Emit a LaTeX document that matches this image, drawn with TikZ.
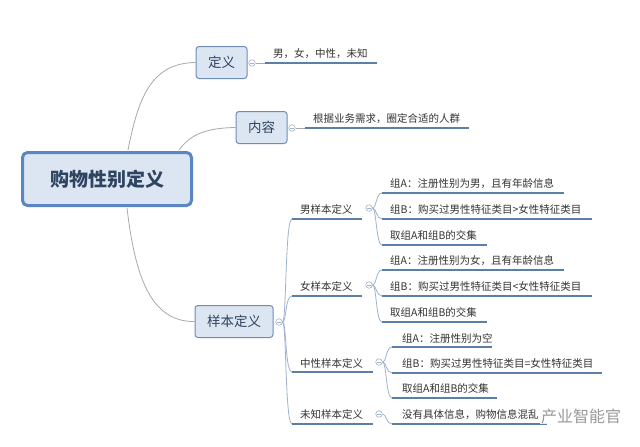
\documentclass[tikz,border=0pt]{standalone}
\usepackage{fontspec}
\setmainfont{Noto Sans CJK SC}
\definecolor{linec}{HTML}{5B80A8}
\definecolor{boxfill}{HTML}{DCE6F2}
\definecolor{boxdraw}{HTML}{6E8DB5}
\definecolor{rootdraw}{HTML}{5A87C4}
\definecolor{txt}{HTML}{333333}
\definecolor{boxtxt}{HTML}{2E4460}
\definecolor{conn}{HTML}{A8A8A8}
\definecolor{circc}{HTML}{9FB3CC}
\tikzset{
  rootbox/.style={draw=rootdraw, line width=3pt, fill=boxfill, rounded corners=5pt,
    minimum width=169pt, minimum height=53pt, text=boxtxt,
    font=\fontsize{19}{22}\selectfont\bfseries},
  topicbox/.style={draw=boxdraw, line width=1pt, fill=boxfill, rounded corners=3pt,
    minimum height=32pt, text=boxtxt, font=\fontsize{13.5}{16}\selectfont},
  leaf/.style={anchor=base west, inner sep=0pt, text=txt, font=\fontsize{10.5}{12}\selectfont},
  uline/.style={draw=linec, line width=2pt},
  connl/.style={draw=conn, line width=0.8pt},
  brack/.style={draw=circc, line width=0.8pt},
  circn/.style={circle, draw=circc, fill=white, line width=0.6pt, minimum size=6.5pt, inner sep=0pt},
  wm/.style={text=gray!80, font=\fontsize{16}{18}\selectfont, inner sep=1pt, fill=white, fill opacity=0.85, text opacity=1}
}
\newcommand{\minus}[1]{\draw[draw=circc, line width=0.6pt] ([xshift=-1.6pt]#1.center) -- ([xshift=1.6pt]#1.center);}
\begin{document}
\begin{tikzpicture}[x=1pt, y=-1pt]
\useasboundingbox[fill=white] (0,0) rectangle (640,447);

% main nodes
\node[rootbox] (root) at (107,179) {购物性别定义};
\node[topicbox, minimum width=51pt] (def) at (221.5,62.5) {定义};
\node[topicbox, minimum width=51pt] (cont) at (261.5,127.5) {内容};
\node[topicbox, minimum width=78pt] (samp) at (234,321.5) {样本定义};

% root connectors
\coordinate (r1) at (128,150);
\coordinate (r2) at (179,150);
\coordinate (r3) at (127,208);
\draw[connl] (r1) .. controls (138,100) and (150,63) .. (def.west);
\draw[connl] (r2) .. controls (190,135) and (205,128) .. (cont.west);
\draw[connl] (r3) .. controls (135,275) and (150,322) .. (samp.west);

% collapse circles
\node[circn] (c1) at (252,63) {};
\node[circn] (c2) at (292,128) {};
\node[circn] (c3) at (279,322) {};
\node[circn] (cm) at (369,208) {};
\node[circn] (cf) at (369,285) {};
\node[circn] (cn) at (379,362) {};
\node[circn] (cu) at (379,414) {};
\foreach \c in {c1,c2,c3,cm,cf,cn,cu} {\minus{\c}}

% 定义 child
\coordinate (d0) at (265,63); \coordinate (d1) at (377,63);
\draw[connl] (c1.east) -- (d0);
\draw[uline] (d0) -- (d1);
\node[leaf] (dtext) at (273,57) {男，女，中性，未知};

% 内容 child
\coordinate (n0) at (305,128); \coordinate (n1) at (469,128);
\draw[connl] (c2.east) -- (n0);
\draw[uline] (n0) -- (n1);
\node[leaf] (ntext) at (313,122) {根据业务需求，圈定合适的人群};

% sample level-2
\coordinate (m0) at (292,219); \coordinate (m1) at (362,219);
\coordinate (f0) at (292,296); \coordinate (f1) at (362,296);
\coordinate (z0) at (292,372); \coordinate (z1) at (373,372);
\coordinate (u0) at (292,424); \coordinate (u1) at (373,424);
\foreach \a in {m0,f0,z0,u0} {
  \draw[brack] (c3.east) .. controls ([xshift=4pt]c3.east) and ([xshift=-7pt]\a) .. (\a);
}
\draw[uline] (m0) -- (m1);
\draw[uline] (f0) -- (f1);
\draw[uline] (z0) -- (z1);
\draw[uline] (u0) -- (u1);
\node[leaf] (mt) at (300,213) {男样本定义};
\node[leaf] (ft) at (300,290) {女样本定义};
\node[leaf] (zt) at (300,367) {中性样本定义};
\node[leaf] (ut) at (300,418) {未知样本定义};

% male children
\coordinate (ma0) at (382,193); \coordinate (ma1) at (564,193);
\coordinate (mb0) at (382,219); \coordinate (mb1) at (592,219);
\coordinate (mc0) at (382,245); \coordinate (mc1) at (487,245);
% female children
\coordinate (fa0) at (382,270); \coordinate (fa1) at (564,270);
\coordinate (fb0) at (382,296); \coordinate (fb1) at (592,296);
\coordinate (fc0) at (382,322); \coordinate (fc1) at (487,322);
% neutral children
\coordinate (na0) at (392,347); \coordinate (na1) at (492,347);
\coordinate (nb0) at (392,373); \coordinate (nb1) at (602,373);
\coordinate (nc0) at (392,398); \coordinate (nc1) at (497,398);
% unknown child
\coordinate (ua0) at (392,424); \coordinate (ua1) at (547,424);

\foreach \a in {ma0,mb0,mc0} {
  \draw[brack] (cm.east) .. controls ([xshift=4pt]cm.east) and ([xshift=-6pt]\a) .. (\a);
}
\foreach \a in {fa0,fb0,fc0} {
  \draw[brack] (cf.east) .. controls ([xshift=4pt]cf.east) and ([xshift=-6pt]\a) .. (\a);
}
\foreach \a in {na0,nb0,nc0} {
  \draw[brack] (cn.east) .. controls ([xshift=4pt]cn.east) and ([xshift=-6pt]\a) .. (\a);
}
\draw[brack] (cu.east) .. controls ([xshift=4pt]cu.east) and ([xshift=-6pt]ua0) .. (ua0);

\foreach \a/\b in {ma0/ma1,mb0/mb1,mc0/mc1,fa0/fa1,fb0/fb1,fc0/fc1,na0/na1,nb0/nb1,nc0/nc1,ua0/ua1} {
  \draw[uline] (\a) -- (\b);
}

\node[leaf] (mat) at (390,187) {组A：注册性别为男，且有年龄信息};
\node[leaf] (mbt) at (390,213) {组B：购买过男性特征类目>女性特征类目};
\node[leaf] (mct) at (390,239) {取组A和组B的交集};
\node[leaf] (fat) at (390,264) {组A：注册性别为女，且有年龄信息};
\node[leaf] (fbt) at (390,290) {组B：购买过男性特征类目<女性特征类目};
\node[leaf] (fct) at (390,316) {取组A和组B的交集};
\node[leaf] (nat) at (402,342) {组A：注册性别为空};
\node[leaf] (nbt) at (402,367) {组B：购买过男性特征类目=女性特征类目};
\node[leaf] (nct) at (402,392) {取组A和组B的交集};
\node[leaf] (uat) at (402,418) {没有具体信息，购物信息混乱};

% watermark
\node[wm] (wmark) at (581,416) {产业智能官};
\end{tikzpicture}
\end{document}
